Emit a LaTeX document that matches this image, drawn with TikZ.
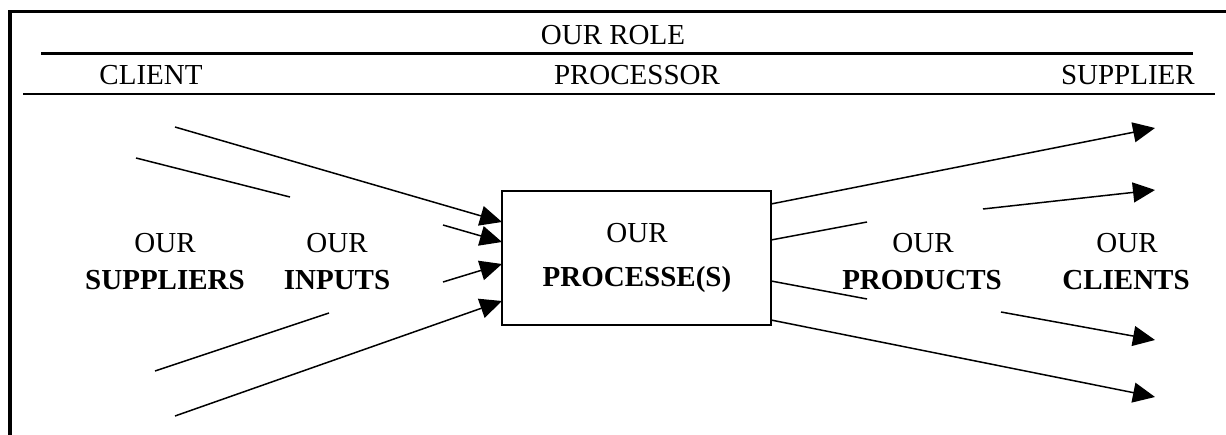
\documentclass[tikz,border=0pt]{standalone}
\usepackage{fontspec}
\setmainfont{Liberation Serif}
\usetikzlibrary{arrows.meta}
\begin{document}
\begin{tikzpicture}[x=1pt,y=-1pt,
  lbl/.style={anchor=base,inner sep=0pt,font=\fontsize{29}{31}\selectfont},
  blbl/.style={lbl,font=\fontsize{29}{31}\selectfont\bfseries},
  conn/.style={line width=1.5pt},
  arr/.style={conn,-{Triangle[length=22pt,width=20pt]}}]
\useasboundingbox (0,0) rectangle (1226,435);
% frame
\draw[line width=3.5pt] (10,435) -- (10,11.5) -- (1226,11.5);
% header lines
\coordinate (h1a) at (41,54); \coordinate (h1b) at (1193,54);
\coordinate (h2a) at (23,94); \coordinate (h2b) at (1215,94);
\draw[line width=3pt] (h1a) -- (h1b);
\draw[line width=2pt] (h2a) -- (h2b);
% header texts
\node[lbl] (role) at (613,45) {OUR ROLE};
\node[lbl] (client) at (151,85) {CLIENT};
\node[lbl] (processor) at (637,85) {PROCESSOR};
\node[lbl,anchor=base east] (supplier) at (1195,85) {SUPPLIER};
% box
\node[draw,line width=1.5pt,minimum width=269pt,minimum height=134pt,inner sep=0pt] (box) at (636.5,258) {};
\node[lbl] (bour) at (637,243) {OUR};
\node[blbl] (bproc) at (637,287) {PROCESSE(S)};
% side labels
\node[lbl] (o1) at (165,253) {OUR};
\node[blbl] (sup) at (165,290) {SUPPLIERS};
\node[lbl] (o2) at (337,253) {OUR};
\node[blbl] (inp) at (337,290) {INPUTS};
\node[lbl] (o3) at (923,253) {OUR};
\node[blbl] (prod) at (922,290) {PRODUCTS};
\node[lbl] (o4) at (1127,253) {OUR};
\node[blbl] (cli) at (1126,290) {CLIENTS};
% left connectors
\coordinate (l1s) at (175,127); \coordinate (l1e) at (502,222);
\coordinate (l2s) at (136,158); \coordinate (l2e) at (290,197);
\coordinate (l3s) at (443,225); \coordinate (l3e) at (502,242);
\coordinate (l4s) at (443,282); \coordinate (l4e) at (502,264);
\coordinate (l5s) at (155,371); \coordinate (l5e) at (329,313);
\coordinate (l6s) at (175,416); \coordinate (l6e) at (502,301);
\draw[arr] (l1s) -- (l1e);
\draw[conn] (l2s) -- (l2e);
\draw[arr] (l3s) -- (l3e);
\draw[arr] (l4s) -- (l4e);
\draw[conn] (l5s) -- (l5e);
\draw[arr] (l6s) -- (l6e);
% right connectors
\coordinate (r1s) at (771,204); \coordinate (r1e) at (1155,128);
\coordinate (r2s) at (771,240); \coordinate (r2e) at (867,222);
\coordinate (r3s) at (983,209); \coordinate (r3e) at (1155,190);
\coordinate (r4s) at (771,281); \coordinate (r4e) at (867,299);
\coordinate (r5s) at (1001,312); \coordinate (r5e) at (1155,340);
\coordinate (r6s) at (771,320); \coordinate (r6e) at (1155,397);
\draw[arr] (r1s) -- (r1e);
\draw[conn] (r2s) -- (r2e);
\draw[arr] (r3s) -- (r3e);
\draw[conn] (r4s) -- (r4e);
\draw[arr] (r5s) -- (r5e);
\draw[arr] (r6s) -- (r6e);
\end{tikzpicture}
\end{document}
